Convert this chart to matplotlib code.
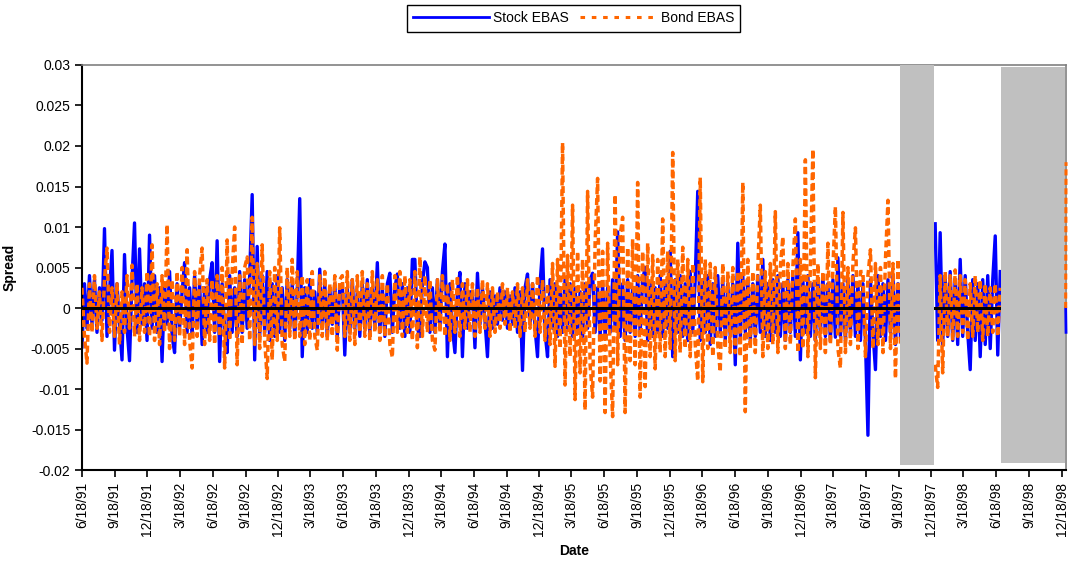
import matplotlib
matplotlib.use("Agg")
import matplotlib.pyplot as plt
import matplotlib.dates as mdates
import pandas as pd

plt.rcParams['font.family'] = ['Liberation Sans', 'DejaVu Sans']

# weekly spreads, in units of 1e-4, one block per year from 6/18
stock_91 = [-48, 30, -25, 40, -20, 35, -30, 25, -15, 98, -35, 20, 71, -52, 30, -20, -64, 66, -25, -65,
            35, 105, -30, 73, -20, 30, -40, 90, -25, 40, -30, 25, -66, 30, -20, 45, -35, -55, 30, -25,
            20, 56, -30, 25, -35, 40, -20, 30, -45, 25, -30, 35]
stock_92 = [56, -30, 83, -66, 30, -25, -55, 40, -30, 25, -35, 45, -30, 35, -25, 40, 140, -64, 76, -35,
            40, -30, 45, -40, 30, -35, 40, -30, 25, -40, 35, -25, 30, -35, 20, 135, -60, 25, -30, 35,
            -25, 20, -30, 48, -25, 30, -35, 25, -20, 30, -35, 25]
stock_93 = [30, -58, 25, -30, 35, -25, 20, -35, 30, -25, 35, -30, 25, -20, 56, -30, 25, -35, 30, 43,
            -30, 25, 42, -25, 30, -35, 25, -30, 60, 60, -25, -35, 30, 57, 50, -30, 25, -30, 35, -25,
            45, 79, -60, 30, -25, -55, 20, 44, -60, 30, -25, 20]
stock_94 = [20, -49, 43, -20, 25, -15, -60, 20, -25, 15, -20, 25, -15, 20, -25, 15, -20, 25, -30, 20,
            -77, 25, 42, -20, 30, -25, -60, 30, 73, -30, -60, 35, -25, 30, -35, 25, -30, 35, -25, 30,
            -35, 25, -30, 20, -35, 30, -25, 35, 43, -30, 25, -35]
stock_95 = [30, -35, 25, -30, 35, -25, 94, -35, 30, -40, 35, -30, 25, -35, 40, -30, 35, 50, -40, 30,
            -35, 25, -30, 40, -35, 30, -25, 70, -60, 35, -30, 40, -35, 30, -40, 45, -30, 35, 144, -40,
            35, -30, 40, -45, 30, -35, 40, -30, 35, -40, 30, -35]
stock_96 = [30, -70, 80, -35, 40, -30, 35, -40, 30, -35, 40, -30, 60, -35, 30, -40, 35, -30, 40, -35,
            30, -40, 35, -30, 40, -35, 93, -64, 35, -30, 40, -35, 30, -40, 35, -30, 40, -35, 30, -40,
            35, -36, 62, -35, 30, -40, 35, -30, 40, -35, 30, -40]
stock_97 = [30, -40, -157, 35, -30, -76, 40, -35, 30, -40, 35, -30, 40, -45, 30, -35]

bond_91 = [25, -35, -68, 30, -30, 40, -25, 20, -40, 35, 74, -30, 25, -35, 30, -45, 20, -30, 40, -25,
           53, -35, 30, -40, 25, -30, 45, -35, 78, -40, 30, -45, 40, -30, 103, -50, 35, -40, 45, -35,
           50, -45, 72, -40, -74, 45, -35, 40, 74, -45, 35, -40]
bond_92 = [35, -45, 40, -35, 50, -74, 84, -40, 45, 100, -70, 40, -45, 50, 63, -40, 112, -45, 55, -50,
           78, -40, -87, 45, -64, 50, -40, 99, -45, -66, 50, -35, 60, -40, 45, -35, 40, -45, 35, -40,
           45, -35, -52, 40, -35, 45, -40, 30, -35, 40, -52, 35]
bond_93 = [40, -35, 45, -40, 35, -45, 40, -30, 45, -35, 30, -40, 45, -30, 35, -40, 40, -35, 30, -45,
           -61, 40, -30, 45, -35, 40, -30, 35, -40, 45, -49, 63, -35, 40, -30, 35, -40, -52, 35, -30,
           40, -35, 30, -40, 35, -30, 40, -35, 30, -25, 35, -30]
bond_94 = [30, -35, 25, -30, 35, -25, 30, -35, 25, -30, 20, -25, 30, -20, 25, -30, 20, -25, 30, -35,
           25, -30, 35, -25, 30, -35, 40, -30, 35, -40, 30, -45, 55, -72, 60, -50, 204, -95, 65, -60,
           127, -113, 70, -80, 60, -126, 144, -70, -110, 80, 160, -90]
bond_95 = [70, -129, 80, -60, -134, 140, -70, 90, 112, -129, 75, -65, 85, -70, 155, -110, 70, -97, 80, -60,
           65, -75, 60, -55, 110, -60, 70, -50, 192, -65, 60, -55, 75, -50, 60, -60, 55, -45, -90, 161,
           -91, 60, -50, 55, -60, 50, -45, -79, 55, -50, 45, -55]
bond_96 = [50, -55, 45, -60, 155, -128, 60, -50, 45, -55, 50, 127, -60, 45, -50, 55, -45, 119, -55, 50,
           88, -50, 55, -45, 50, 110, -55, 60, -50, 183, -60, 50, 196, -86, 55, -50, 45, -55, 80, -45,
           50, 125, -50, -74, 118, -55, 50, -45, 55, 99, -50, 45]
bond_97 = [45, -60, 40, 72, -50, 55, -45, 50, -55, 60, 133, -50, 55, -87, 60, -45]

# after the first shaded gap (weekly from 12/29/97)
stock_98 = [104, -40, 93, -45, 40, -35, 45, -40, 35, -45, 60, -35, 40, -30, -76, 35, -40, 30, -60, 35,
            -45, 40, -50, 35, 89, -58, 45]
bond_98 = [-70, -98, 40, -80, 45, -35, 40, -40, 47, -35, 40, -30, 35, -40, 30, -35, 40, -30, 35, -40,
           30, -35, 25, -30, 30, -35, 25]

# last points at the right edge
end_dates = ['1998-12-29', '1998-12-30']
stock_end = [0, -30]
bond_end = [0, 180]

# shaded periods
gray_start = ['1997-09-21', '1998-06-30']
gray_end = ['1997-12-26', '1998-12-28']
gray_low = [-0.0194, -0.0191]
gray_high = [0.030, 0.0297]

stock1 = stock_91 + stock_92 + stock_93 + stock_94 + stock_95 + stock_96 + stock_97
bond1 = bond_91 + bond_92 + bond_93 + bond_94 + bond_95 + bond_96 + bond_97

d1 = pd.date_range('1991-06-18', periods=len(stock1), freq='7D')
d2 = pd.date_range('1997-12-29', periods=len(stock_98), freq='7D')
d3 = pd.to_datetime(end_dates)

blue = '#0000FF'
orange = '#FF6600'
dash = (0, (2.0, 1.1))

fig = plt.figure(figsize=(10.7, 5.65), dpi=100)
ax = fig.add_axes([0.0766, 0.168, 0.9197, 0.717])

# stock series (solid)
for d, v in [(d1, stock1), (d2, stock_98)]:
    ax.plot(d, [x * 1e-4 for x in v], color=blue, lw=2.4, zorder=2)
# bond series (dashed)
for d, v in [(d1, bond1), (d2, bond_98)]:
    ax.plot(d, [x * 1e-4 for x in v], color=orange, lw=2.5, ls=dash, zorder=3)
# the last two points sit on the right border
ax.plot(d3, [x * 1e-4 for x in stock_end], color=blue, lw=2.0, zorder=6, clip_on=False)
ax.plot(d3, [x * 1e-4 for x in bond_end], color=orange, lw=2.2, ls=dash, zorder=7, clip_on=False)

ax.axhline(0, color='black', lw=2.2, zorder=4)

# gray shaded bars
for s, e, lo, hi in zip(gray_start, gray_end, gray_low, gray_high):
    s = mdates.date2num(pd.Timestamp(s))
    e = mdates.date2num(pd.Timestamp(e))
    ax.bar(s, hi - lo, width=e - s, bottom=lo, align='edge', color='#C0C0C0', zorder=5, lw=0)

ax.set_ylim(-0.02, 0.03)
ax.set_yticks([-0.02, -0.015, -0.01, -0.005, 0, 0.005, 0.01, 0.015, 0.02, 0.025, 0.03])
ax.set_yticklabels(['-0.02', '-0.015', '-0.01', '-0.005', '0', '0.005', '0.01', '0.015', '0.02', '0.025', '0.03'])

ticks = pd.date_range('1991-06-18', '1998-12-18', freq=pd.DateOffset(months=3))
ax.set_xticks(ticks)
ax.set_xticklabels([f"{t.month}/{t.day}/{t.strftime('%y')}" for t in ticks], rotation=90)
ax.set_xlim(pd.Timestamp('1991-06-18'), pd.Timestamp('1998-12-30'))

ax.tick_params(labelsize=10, length=5, width=1.2, direction='out', colors='black')
ax.spines['left'].set_linewidth(1.5)
ax.spines['bottom'].set_linewidth(1.5)
ax.spines['top'].set_color('#808080')
ax.spines['right'].set_color('#808080')
ax.spines['top'].set_linewidth(1.2)
ax.spines['right'].set_linewidth(1.2)

ax.set_ylabel('Spread', fontsize=10, fontweight='bold', labelpad=10)
ax.set_xlabel('Date', fontsize=10, fontweight='bold', labelpad=6)

h1, = ax.plot([], [], color=blue, lw=2.0)
h2, = ax.plot([], [], color=orange, lw=2.2, ls=(0, (1.5, 2.2)))
leg = fig.legend([h1, h2], ['Stock EBAS', 'Bond EBAS'], loc='upper center',
                 bbox_to_anchor=(0.536, 0.991), ncol=2, fontsize=10, fancybox=False,
                 edgecolor='black', handlelength=5.5, handletextpad=0.3, columnspacing=0.8,
                 borderpad=0.45, borderaxespad=0, framealpha=1)
leg.get_frame().set_linewidth(1.0)

fig.savefig('out.png', dpi=100)
